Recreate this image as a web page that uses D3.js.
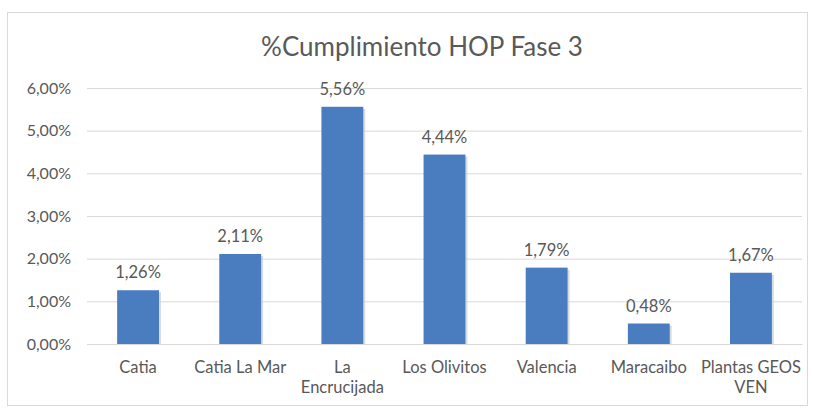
<!DOCTYPE html>
<html>
<head>
<meta charset="utf-8">
<script src="https://cdn.jsdelivr.net/npm/d3@7"></script>
<style>
  body { margin: 0; background: #fff; }
  text { font-family: Lato, "Open Sans", sans-serif; fill: #595959; }
</style>
</head>
<body>
<div id="chart_area"></div>
<script>
// data
var categories = ["Catia", "Catia La Mar", "La\nEncrucijada", "Los Olivitos", "Valencia", "Maracaibo", "Plantas GEOS\nVEN"];
var values = [0.0126, 0.0211, 0.0556, 0.0444, 0.0179, 0.0048, 0.0167];
var yTicks = [0, 0.01, 0.02, 0.03, 0.04, 0.05, 0.06];
var title = "%Cumplimiento HOP Fase 3";

var frame_width = 813, frame_height = 408;
var margin = {top: 88, right: 11, bottom: 64, left: 87};
var canvas_width = frame_width - margin.left - margin.right;
var canvas_height = frame_height - margin.top - margin.bottom;

var frame = d3.select("#chart_area").append("svg")
    .attr("width", frame_width)
    .attr("height", frame_height);

// chart border
frame.append("rect")
    .attr("x", 7.5).attr("y", 12.5)
    .attr("width", 800).attr("height", 393)
    .attr("fill", "#fff")
    .attr("stroke", "#d9d9d9");

frame.append("text")
    .attr("x", 422).attr("y", 56)
    .attr("text-anchor", "middle")
    .style("font-size", "26px")
    .text(title);

var canvas = frame.append("g")
    .attr("transform", "translate(" + margin.left + "," + margin.top + ")");

var fmt = function(v) { return d3.format(".2f")(v * 100).replace(".", ",") + "%"; };

var xScale = d3.scaleBand().domain(categories).range([0, canvas_width]).paddingInner(0.59).paddingOuter(0.295);
var yScale = d3.scaleLinear().domain([0, 0.06]).range([canvas_height, 0]);

// gridlines + y labels
var yAxis = d3.axisLeft(yScale).tickValues(yTicks).tickFormat(fmt)
    .tickSize(-canvas_width).tickPadding(16);
var gy = canvas.append("g").attr("class", "y axis").call(yAxis);
gy.select(".domain").remove();
gy.selectAll("line").attr("stroke", "#d9d9d9");
gy.selectAll("text").style("font-size", "16px").attr("fill", "#595959");

// bars
var bars = canvas.append("g");
bars.selectAll(".shadow")
    .data(values)
    .enter().append("rect")
    .attr("x", function(d, i) { return xScale(categories[i]) + 2; })
    .attr("y", function(d) { return yScale(d) + 2; })
    .attr("width", xScale.bandwidth())
    .attr("height", function(d) { return canvas_height - yScale(d) - 2; })
    .attr("fill", "#c8ccd2")
    .attr("opacity", 0.7);
bars.selectAll(".bar")
    .data(values)
    .enter().append("rect").attr("class", "bar")
    .attr("x", function(d, i) { return xScale(categories[i]); })
    .attr("y", function(d) { return yScale(d); })
    .attr("width", xScale.bandwidth())
    .attr("height", function(d) { return canvas_height - yScale(d); })
    .attr("fill", "#4a7cc0");

// value labels
canvas.append("g").selectAll("text")
    .data(values)
    .enter().append("text")
    .attr("x", function(d, i) { return xScale(categories[i]) + xScale.bandwidth() / 2; })
    .attr("y", function(d) { return yScale(d) - 12; })
    .attr("text-anchor", "middle")
    .style("font-size", "16.5px")
    .text(fmt);

// x axis labels
var xAxis = d3.axisBottom(xScale).tickSize(0).tickPadding(0);
var gx = canvas.append("g").attr("class", "x axis")
    .attr("transform", "translate(0," + canvas_height + ")")
    .call(xAxis);
gx.select(".domain").attr("stroke", "#d9d9d9");
gx.selectAll("text").each(function(d) {
    var t = d3.select(this).text("").style("font-size", "16.5px").attr("fill", "#595959").attr("y", 0).attr("dy", null);
    d.split("\n").forEach(function(line, k) {
        t.append("tspan").attr("x", 0).attr("y", 29 + k * 20).text(line);
    });
});
</script>
</body>
</html>
